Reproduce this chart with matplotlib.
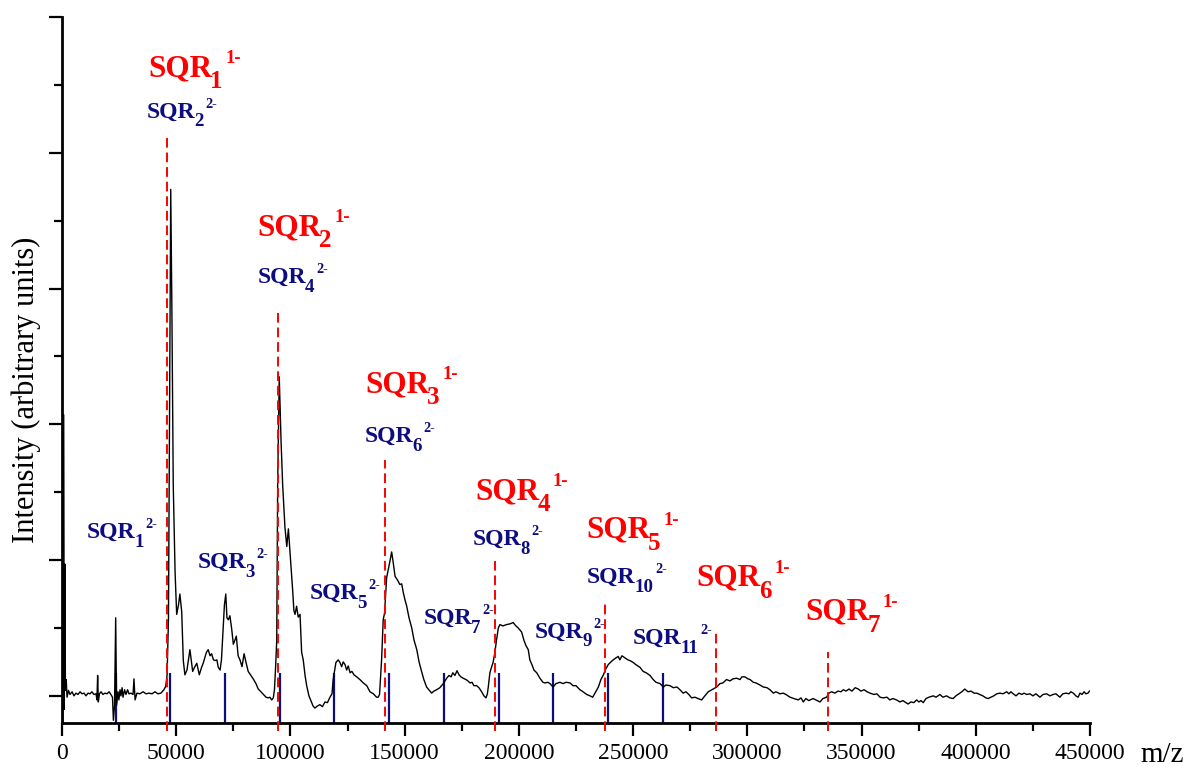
import matplotlib
matplotlib.use("Agg")
import matplotlib.pyplot as plt
import numpy as np
from matplotlib.ticker import MultipleLocator, NullFormatter

plt.rcParams['font.family'] = ['Liberation Serif', 'DejaVu Serif']

# mass spectrum trace: (m/z, intensity)
spectrum = np.array([
    (300, -0.19), (750, 2.07), (1000, -0.1), (1250, 0.97), (1500, 0.04), (1850, 0.12),
    (2200, -0.01), (2850, 0.04), (3500, 0.01), (4400, 0.03), (5250, 0.0), (6100, 0.02),
    (7000, 0.01), (7900, 0.03), (8750, 0.015), (9650, 0.02), (10500, 0.0), (11400, 0.02),
    (12250, 0.015), (13100, 0.03), (14000, 0.01), (14900, 0.015), (15300, -0.03), (15600, 0.15),
    (15900, -0.045), (16400, 0.015), (17100, 0.03), (17900, 0.01), (18800, 0.02), (19700, 0.015),
    (20600, 0.03), (21400, 0.01), (22100, -0.01), (22500, -0.18), (23000, -0.07), (23500, 0.575),
    (23900, -0.07), (24500, 0.03), (24900, -0.03), (25400, 0.045), (25800, 0.0), (26300, 0.06),
    (26700, -0.01), (27400, 0.045), (28000, 0.01), (28700, 0.045), (29300, 0.015), (30200, 0.02),
    (31100, 0.01), (31500, 0.125), (32000, -0.03), (32800, 0.02), (34100, 0.015), (35500, 0.03),
    (36800, 0.015), (38100, 0.02), (39400, 0.015), (40700, 0.03), (42000, 0.015), (43300, 0.02),
    (44600, 0.045), (45400, 0.07), (46000, 0.155), (46600, 0.56), (47100, 2.18), (47600, 3.73),
    (48100, 2.85), (48700, 1.55), (49500, 0.91), (50200, 0.60), (51000, 0.67), (51600, 0.75),
    (52400, 0.62), (53100, 0.26), (53800, 0.155), (54700, 0.19), (56000, 0.34), (57200, 0.18),
    (58000, 0.21), (59000, 0.24), (60100, 0.155), (61100, 0.21), (61800, 0.24), (63200, 0.32),
    (64000, 0.34), (64800, 0.295), (65500, 0.31), (66300, 0.265), (67000, 0.26), (67800, 0.265),
    (68400, 0.21), (69200, 0.19), (69800, 0.265), (70600, 0.52), (71100, 0.67), (71700, 0.75),
    (72200, 0.575), (72800, 0.56), (73500, 0.59), (74300, 0.49), (75000, 0.38), (75700, 0.41),
    (76300, 0.44), (77100, 0.295), (77900, 0.265), (78800, 0.215), (79700, 0.31), (80500, 0.25),
    (81500, 0.18), (82700, 0.15), (83700, 0.125), (84900, 0.09), (85900, 0.05), (87100, 0.03),
    (88200, 0.01), (89300, -0.01), (90300, -0.015), (91000, -0.01), (91800, -0.03), (92500, -0.015),
    (93000, 0.045), (93500, 0.21), (94000, 0.41), (94400, 1.55), (95100, 2.35), (95900, 1.87),
    (96600, 1.55), (97600, 1.24), (98400, 1.10), (99100, 1.23), (99800, 1.06), (100300, 0.95),
    (101000, 0.77), (101500, 0.63), (102000, 0.60), (102700, 0.66), (103400, 0.58), (104200, 0.60),
    (104900, 0.32), (105600, 0.265), (106400, 0.15), (107100, 0.075), (108100, 0.0), (109300, -0.05),
    (109900, -0.075), (110700, -0.09), (111800, -0.075), (112900, -0.065), (114000, -0.08), (115100, -0.045),
    (116200, -0.05), (117300, -0.01), (118200, 0.015), (118700, 0.12), (119900, 0.245), (120900, 0.265),
    (121700, 0.245), (122400, 0.215), (123100, 0.25), (123900, 0.23), (124600, 0.19), (125300, 0.22),
    (126100, 0.17), (126900, 0.18), (127800, 0.155), (129000, 0.14), (130400, 0.12), (131900, 0.095),
    (133400, 0.075), (134800, 0.03), (136300, 0.015), (137700, -0.01), (138400, -0.01), (139000, 0.01),
    (139900, 0.265), (140600, 0.56), (141200, 0.61), (142100, 0.87), (143300, 0.97), (144300, 1.06),
    (145000, 0.98), (145800, 0.88), (146800, 0.855), (147900, 0.82), (148700, 0.825), (149400, 0.76),
    (150100, 0.71), (150900, 0.66), (151900, 0.575), (153100, 0.50), (154100, 0.41), (155300, 0.34),
    (156300, 0.25), (157400, 0.18), (158400, 0.12), (159600, 0.065), (160600, 0.045), (161800, 0.02),
    (162800, 0.035), (164000, 0.045), (165400, 0.06), (166900, 0.09), (168400, 0.13), (169400, 0.15),
    (170300, 0.14), (171100, 0.17), (172000, 0.15), (172900, 0.185), (173800, 0.155), (174600, 0.14),
    (175600, 0.13), (176800, 0.12), (177700, 0.11), (178600, 0.095), (179500, 0.10), (180300, 0.075),
    (181500, 0.075), (182500, 0.06), (183700, 0.03), (184700, 0.0), (185600, -0.015), (186200, 0.015),
    (186600, 0.065), (187300, 0.17), (188100, 0.215), (188700, 0.245), (189500, 0.32), (190200, 0.41),
    (191000, 0.50), (191700, 0.525), (193000, 0.515), (194600, 0.525), (196100, 0.53), (197500, 0.54),
    (198700, 0.515), (199700, 0.50), (201200, 0.47), (202200, 0.41), (203100, 0.37), (204100, 0.34),
    (204800, 0.265), (205700, 0.23), (206600, 0.19), (207800, 0.17), (209200, 0.13), (210500, 0.10),
    (211400, 0.095), (212700, 0.10), (213600, 0.09), (215000, 0.065), (216200, 0.09), (218000, 0.10),
    (219300, 0.09), (220600, 0.10), (222400, 0.095), (223700, 0.075), (225000, 0.075), (226700, 0.045),
    (228100, 0.03), (229700, 0.01), (231100, 0.0), (232300, -0.01), (233300, 0.02), (234800, 0.065),
    (235900, 0.12), (237000, 0.155), (238100, 0.20), (239100, 0.23), (240300, 0.25), (241300, 0.265),
    (242500, 0.28), (243500, 0.29), (244200, 0.265), (245100, 0.295), (246400, 0.28), (247700, 0.265),
    (248600, 0.26), (250100, 0.245), (251200, 0.23), (253000, 0.21), (254400, 0.18), (255700, 0.17),
    (257400, 0.15), (258800, 0.12), (260000, 0.10), (261800, 0.09), (263200, 0.065), (264400, 0.08),
    (266100, 0.075), (267600, 0.06), (269200, 0.065), (270500, 0.045), (271900, 0.02), (273100, 0.03),
    (274400, 0.01), (275600, -0.015), (277100, -0.01), (278400, -0.02), (280000, -0.03), (281400, 0.0),
    (282900, 0.03), (284500, 0.045), (286600, 0.065), (288000, 0.09), (289300, 0.095), (290900, 0.12),
    (292400, 0.11), (293700, 0.125), (295300, 0.13), (296800, 0.12), (297600, 0.14), (298900, 0.14),
    (300300, 0.125), (301200, 0.12), (302600, 0.10), (303800, 0.095), (305500, 0.08), (307000, 0.065),
    (308600, 0.06), (309900, 0.045), (311400, 0.02), (312500, 0.03), (314300, 0.015), (315700, 0.02),
    (316900, 0.01), (318700, -0.01), (320400, -0.02), (322300, -0.03), (323500, -0.015), (324500, -0.045),
    (325600, -0.02), (326900, -0.035), (328800, -0.02), (330000, -0.03), (331800, -0.045), (333100, -0.02),
    (334700, -0.01), (335700, 0.02), (336900, 0.03), (338300, 0.02), (339700, 0.035), (341000, 0.03),
    (342000, 0.045), (343200, 0.035), (344500, 0.05), (345800, 0.035), (347200, 0.06), (348600, 0.05),
    (349700, 0.035), (351100, 0.045), (352400, 0.03), (353700, 0.02), (355400, 0.01), (356700, 0.015),
    (358100, -0.01), (359500, -0.015), (361100, -0.01), (362400, -0.03), (363700, -0.02), (365300, -0.03),
    (366800, -0.045), (368100, -0.035), (369400, -0.05), (370400, -0.06), (371600, -0.045), (372900, -0.05),
    (374100, -0.03), (375100, -0.045), (376000, -0.035), (377000, -0.05), (378200, -0.02), (379500, -0.01),
    (381400, 0.0), (382600, -0.01), (384300, 0.01), (385600, -0.01), (387200, 0.0), (388700, -0.015),
    (390100, -0.02), (391300, 0.0), (392600, 0.015), (393900, 0.03), (395200, 0.05), (396600, 0.03),
    (397900, 0.035), (399200, 0.02), (400400, 0.02), (401800, 0.01), (403100, 0.0), (404400, -0.015),
    (405400, -0.02), (406600, -0.01), (407900, 0.0), (409200, 0.015), (410600, 0.02), (411900, 0.015),
    (413500, 0.03), (414500, 0.015), (415400, 0.03), (416400, 0.015), (417600, 0.0), (418900, 0.02),
    (420200, 0.01), (421100, 0.02), (422300, 0.01), (423700, 0.015), (425000, 0.0), (426300, 0.015),
    (428100, -0.01), (429400, 0.01), (431000, 0.015), (432500, 0.0), (433800, 0.01), (435100, 0.015),
    (436800, -0.01), (438100, 0.015), (439500, 0.02), (440800, 0.015), (441600, 0.03), (442700, 0.02),
    (443800, 0.0), (444800, -0.01), (445600, 0.02), (446500, 0.01), (447400, 0.03), (448200, 0.015),
    (449100, 0.02), (449800, 0.035),
])

# singly charged series (red dashed) and doubly charged series (blue ticks)
ion1_mz = [45960, 94400, 141400, 189500, 237700, 286200, 335300]
ion1_top = [4.12, 2.83, 1.74, 0.99, 0.68, 0.46, 0.32]
ion2_mz = [23600, 47300, 71300, 95400, 119100, 143100, 167200, 191300, 214900, 239000, 263100]

# label anchors (left edge, baseline) in data units
ion1_label_pos = [(37600, 4.565), (85400, 3.39), (132600, 2.235), (180800, 1.45),
                  (229400, 1.165), (277900, 0.81), (325200, 0.56)]
ion2_label_pos = [(10900, 1.165), (37200, 4.26), (59500, 0.945), (85800, 3.04),
                  (108500, 0.715), (132600, 1.87), (158400, 0.53), (179900, 1.11),
                  (207000, 0.43), (229800, 0.83), (250000, 0.385)]

RED = '#ff0000'
BLUE = '#0d0d80'

fig = plt.figure(figsize=(11.87, 7.67), dpi=100)
ax = fig.add_axes([62 / 1187, 1 - 723 / 767, 1028 / 1187, 706 / 767])

ax.vlines(ion2_mz, -0.2, 0.17, colors=BLUE, lw=1.6, zorder=2)
ax.plot(spectrum[:, 0], spectrum[:, 1], color='black', lw=1.0, zorder=3)
ax.vlines(ion1_mz, -0.26, ion1_top, colors=RED, lw=1.4,
          linestyles=(0, (5, 2.5)), clip_on=False, zorder=4)

ax.set_xlim(0, 450000)
ax.set_ylim(-0.2, 5)
ax.xaxis.set_major_locator(MultipleLocator(50000))
ax.xaxis.set_minor_locator(MultipleLocator(25000))
ax.yaxis.set_major_locator(MultipleLocator(1))
ax.yaxis.set_minor_locator(MultipleLocator(0.5))
ax.yaxis.set_major_formatter(NullFormatter())
ax.tick_params(which='major', direction='out', length=9.5, width=1.6, labelsize=17, pad=5)
ax.tick_params(which='minor', direction='out', length=5.5, width=1.6)
for side in ('top', 'right'):
    ax.spines[side].set_visible(False)
for side in ('left', 'bottom'):
    ax.spines[side].set_linewidth(2.0)

fig.text(26 / 1187, 1 - 390 / 767, 'Intensity (arbitrary units)', rotation=90,
         ha='center', va='center', fontsize=22)
fig.text(1140 / 1187, 1 - 762 / 767, 'm/z', ha='left', va='baseline', fontsize=21)

renderer = fig.canvas.get_renderer()
to_pt = 72 / fig.dpi


def ion_label(x, y, n, charge, color, size):
    kw = dict(color=color, fontweight='bold', va='baseline', ha='left')
    base = ax.text(x, y, 'SQR', fontsize=size, **kw)
    w = base.get_window_extent(renderer).width * to_pt
    sx = w - 0.06 * size
    sub = ax.annotate(str(n), (x, y), xytext=(sx, -0.38 * size),
                      textcoords='offset points', fontsize=0.8 * size, **kw)
    ws = sub.get_window_extent(renderer).width * to_pt
    ax.annotate(charge, (x, y), xytext=(sx + ws + 0.08 * size, 0.42 * size),
                textcoords='offset points', fontsize=0.6 * size, **kw)


for i, (x, y) in enumerate(ion1_label_pos):
    ion_label(x, y, i + 1, '1-', RED, 22.5)
for i, (x, y) in enumerate(ion2_label_pos):
    ion_label(x, y, i + 1, '2-', BLUE, 17)

fig.savefig('out.png', dpi=100)
